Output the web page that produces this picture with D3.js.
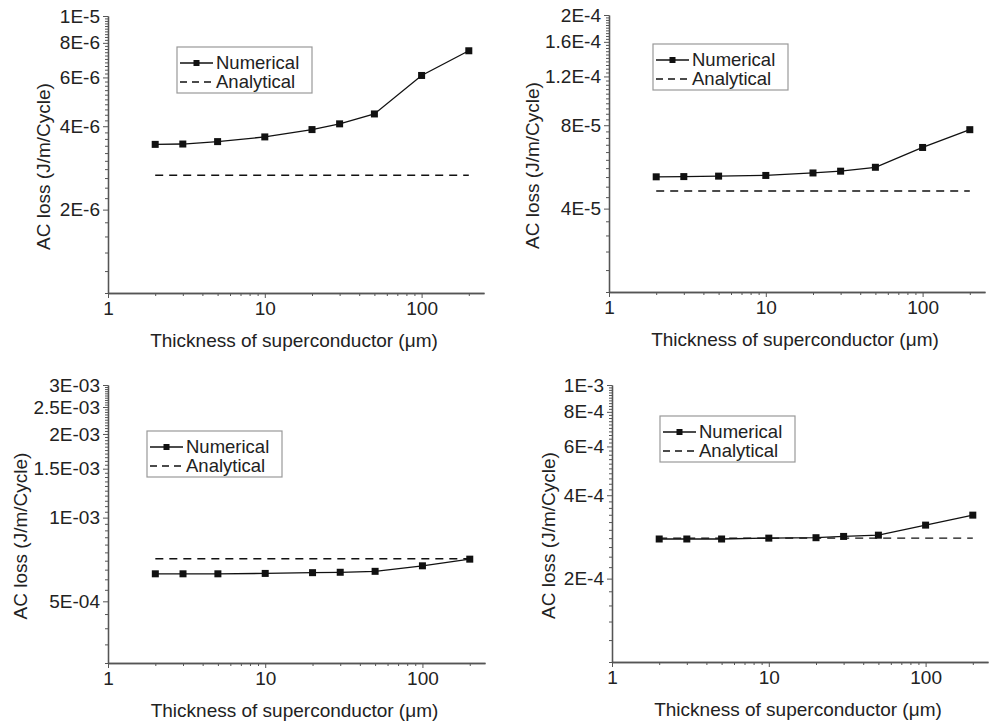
<!DOCTYPE html>
<html lang="en">
  <head>
    <meta charset="UTF-8" />
    <title>AC loss vs thickness</title>
    <style>
      body { margin: 0; background: #fff; }
      svg { font-family: "Liberation Sans", Arial, sans-serif; }
      .axis path, .axis line { stroke: #555; }
      .axis text { fill: #222; font-size: 19px; }
      .title { fill: #222; font-size: 19px; text-anchor: middle; }
      .legend text { fill: #222; font-size: 18.5px; }
    </style>
  </head>
  <body>
    <svg width="990" height="721"></svg>
    <script src="https://d3js.org/d3.v7.min.js"></script>
    <script>
      // thickness of superconductor (um)
      const thickness = [2, 3, 5, 10, 20, 30, 50, 100, 200];

      // AC loss (J/m/Cycle)
      const numericalA = [3.44e-6, 3.45e-6, 3.52e-6, 3.66e-6, 3.89e-6, 4.08e-6, 4.43e-6, 6.1e-6, 7.49e-6];
      const analyticalA = [2.66e-6, 2.66e-6, 2.66e-6, 2.66e-6, 2.66e-6, 2.66e-6, 2.66e-6, 2.66e-6, 2.66e-6];
      const numericalB = [5.21e-5, 5.22e-5, 5.24e-5, 5.27e-5, 5.38e-5, 5.46e-5, 5.64e-5, 6.65e-5, 7.71e-5];
      const analyticalB = [4.63e-5, 4.63e-5, 4.63e-5, 4.63e-5, 4.63e-5, 4.63e-5, 4.63e-5, 4.63e-5, 4.63e-5];
      const numericalC = [6.28e-4, 6.28e-4, 6.28e-4, 6.3e-4, 6.34e-4, 6.36e-4, 6.41e-4, 6.71e-4, 7.09e-4];
      const analyticalC = [7.11e-4, 7.11e-4, 7.11e-4, 7.11e-4, 7.11e-4, 7.11e-4, 7.11e-4, 7.11e-4, 7.11e-4];
      const numericalD = [2.78e-4, 2.78e-4, 2.78e-4, 2.8e-4, 2.81e-4, 2.84e-4, 2.87e-4, 3.12e-4, 3.39e-4];
      const analyticalD = [2.8e-4, 2.8e-4, 2.8e-4, 2.8e-4, 2.8e-4, 2.8e-4, 2.8e-4, 2.8e-4, 2.8e-4];

      // y tick values and their labels per panel
      const yTicksA = [2e-6, 4e-6, 6e-6, 8e-6, 1e-5];
      const yLabelsA = ["2E-6", "4E-6", "6E-6", "8E-6", "1E-5"];
      const yTicksB = [4e-5, 8e-5, 1.2e-4, 1.6e-4, 2e-4];
      const yLabelsB = ["4E-5", "8E-5", "1.2E-4", "1.6E-4", "2E-4"];
      const yTicksC = [5e-4, 1e-3, 1.5e-3, 2e-3, 2.5e-3, 3e-3];
      const yLabelsC = ["5E-04", "1E-03", "1.5E-03", "2E-03", "2.5E-03", "3E-03"];
      const yTicksD = [2e-4, 4e-4, 6e-4, 8e-4, 1e-3];
      const yLabelsD = ["2E-4", "4E-4", "6E-4", "8E-4", "1E-3"];

      const xTicks = [1, 10, 100];
      const xLabels = ["1", "10", "100"];
      const xMinor = [2, 3, 4, 5, 6, 7, 8, 9, 20, 30, 40, 50, 60, 70, 80, 90, 200];

      const xTitle = "Thickness of superconductor (\u03bcm)";
      const yTitle = "AC loss (J/m/Cycle)";
      const legendLabels = ["Numerical", "Analytical"];

      const panels = [
        { num: numericalA, ana: analyticalA, yDomain: [1e-6, 1e-5], yTicks: yTicksA, yLabels: yLabelsA, minorStep: 2e-7,
          left: 108, right: 484, top: 16, bottom: 293, yTitleX: 43, legend: [177, 47] },
        { num: numericalB, ana: analyticalB, yDomain: [2e-5, 2e-4], yTicks: yTicksB, yLabels: yLabelsB, minorStep: 4e-6,
          left: 609, right: 985, top: 15, bottom: 292, yTitleX: 532, legend: [653, 44] },
        { num: numericalC, ana: analyticalC, yDomain: [3e-4, 3e-3], yTicks: yTicksC, yLabels: yLabelsC, minorStep: 5e-5,
          left: 108, right: 485, top: 385, bottom: 663, yTitleX: 20, legend: [147, 431] },
        { num: numericalD, ana: analyticalD, yDomain: [1e-4, 1e-3], yTicks: yTicksD, yLabels: yLabelsD, minorStep: 2e-5,
          left: 612, right: 988, top: 385, bottom: 662, yTitleX: 548, legend: [660, 416] },
      ];

      const svg = d3.select("svg");

      panels.forEach((p) => {
        const x = d3.scaleLog().domain([1, 250]).range([p.left, p.right]);
        const y = d3.scaleLog().domain(p.yDomain).range([p.bottom, p.top]);
        const g = svg.append("g");

        // minor y ticks, linear steps on the log axis
        const minor = d3.range(p.yDomain[0], p.yDomain[1] * 1.0001, p.minorStep)
          .filter((v) => !p.yTicks.some((t) => Math.abs(t - v) < p.minorStep * 0.01));
        g.append("g")
          .attr("class", "axis")
          .attr("transform", `translate(${p.left},0)`)
          .call(d3.axisLeft(y).tickValues(minor).tickSize(3).tickFormat("").tickSizeOuter(0));
        g.append("g")
          .attr("class", "axis")
          .attr("transform", `translate(${p.left},0)`)
          .call(d3.axisLeft(y).tickValues(p.yTicks).tickSize(5).tickPadding(3).tickSizeOuter(0)
            .tickFormat((d, i) => p.yLabels[i]));

        g.append("g")
          .attr("class", "axis")
          .attr("transform", `translate(0,${p.bottom})`)
          .call(d3.axisBottom(x).tickValues(xMinor).tickSize(3).tickFormat("").tickSizeOuter(0));
        g.append("g")
          .attr("class", "axis")
          .attr("transform", `translate(0,${p.bottom})`)
          .call(d3.axisBottom(x).tickValues(xTicks).tickSize(5).tickPadding(4).tickSizeOuter(0)
            .tickFormat((d, i) => xLabels[i]));

        g.selectAll(".axis path").attr("stroke-width", 1.3);

        // titles
        g.append("text")
          .attr("class", "title")
          .attr("x", (p.left + p.right) / 2 - 2)
          .attr("y", p.bottom + 54)
          .text(xTitle);
        g.append("text")
          .attr("class", "title")
          .attr("transform", `translate(${p.yTitleX},${(p.top + p.bottom) / 2 + 12}) rotate(-90)`)
          .attr("dy", "0.35em")
          .text(yTitle);

        // analytical (dashed)
        const line = d3.line().x((d) => x(d[0])).y((d) => y(d[1]));
        g.append("path")
          .datum(thickness.map((t, i) => [t, p.ana[i]]))
          .attr("d", line)
          .attr("fill", "none")
          .attr("stroke", "#111")
          .attr("stroke-width", 1.4)
          .attr("stroke-dasharray", "8,6");

        // numerical
        g.append("path")
          .datum(thickness.map((t, i) => [t, p.num[i]]))
          .attr("d", line)
          .attr("fill", "none")
          .attr("stroke", "#111")
          .attr("stroke-width", 1.3);
        g.selectAll("rect.pt")
          .data(thickness.map((t, i) => [t, p.num[i]]))
          .join("rect")
          .attr("class", "pt")
          .attr("x", (d) => x(d[0]) - 3.5)
          .attr("y", (d) => y(d[1]) - 3.5)
          .attr("width", 7)
          .attr("height", 7)
          .attr("fill", "#111");

        // legend
        const [lx, ly] = p.legend;
        const lg = g.append("g").attr("class", "legend").attr("transform", `translate(${lx},${ly})`);
        lg.append("rect")
          .attr("width", 135)
          .attr("height", 46)
          .attr("fill", "#fff")
          .attr("stroke", "#999")
          .attr("stroke-width", 1.2);
        lg.append("line").attr("x1", 3).attr("x2", 36).attr("y1", 16).attr("y2", 16)
          .attr("stroke", "#111").attr("stroke-width", 1.3);
        lg.append("rect").attr("x", 16.5).attr("y", 13).attr("width", 6).attr("height", 6).attr("fill", "#111");
        lg.append("line").attr("x1", 3).attr("x2", 36).attr("y1", 35).attr("y2", 35)
          .attr("stroke", "#111").attr("stroke-width", 1.3).attr("stroke-dasharray", "7,5");
        lg.selectAll("text")
          .data(legendLabels)
          .join("text")
          .attr("x", 39)
          .attr("y", (d, i) => 16 + i * 19)
          .attr("dy", "0.35em")
          .text((d) => d);
      });
    </script>
  </body>
</html>
